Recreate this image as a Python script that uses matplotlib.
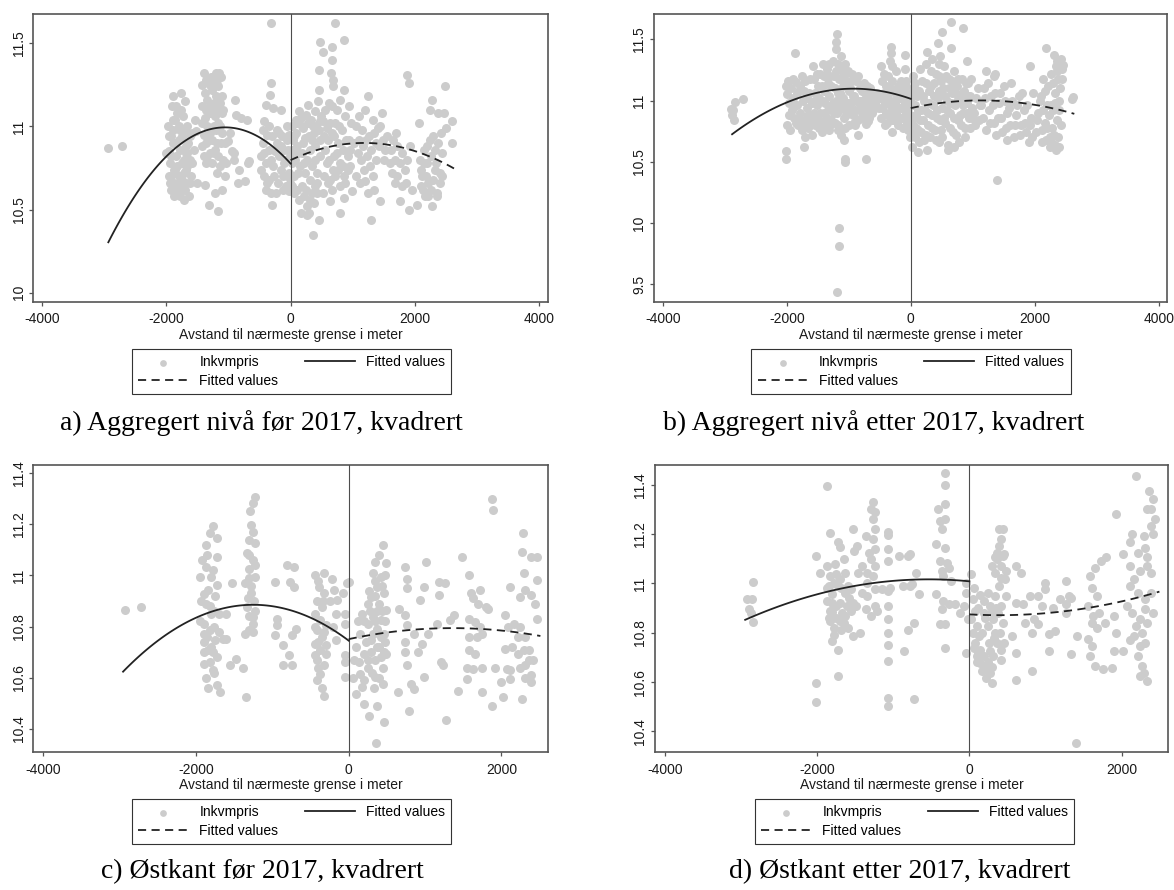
import numpy as np
import matplotlib.pyplot as plt

plt.rcParams['font.family'] = ['Liberation Sans', 'DejaVu Sans']

# Avstand til grensen (m) og lnkvmpris, ett punkt per observasjon
a_pts = np.array([
    (-2933, 10.87), (-2721, 10.88),
    (-2000, 10.84), (-1970, 11.00), (-1960, 10.94), (-1950, 10.85), (-1940, 10.78), (-1930, 10.70),
    (-1920, 10.62), (-1910, 11.12), (-1900, 11.04), (-1890, 10.98), (-1880, 10.58), (-1870, 10.66),
    (-1860, 10.74), (-1850, 10.82), (-1840, 10.90), (-1830, 11.08), (-1820, 10.60), (-1800, 11.00),
    (-1790, 10.70), (-1780, 10.86), (-1765, 11.20), (-1760, 10.64), (-1750, 10.78), (-1740, 10.94),
    (-1730, 11.06), (-1720, 10.56), (-1710, 10.72), (-1700, 11.15), (-1690, 10.84), (-1680, 10.66),
    (-1670, 11.00), (-1660, 10.76), (-1650, 10.90), (-1640, 10.58), (-1620, 10.80), (-1600, 10.70),
    (-1590, 10.96), (-1560, 10.86), (-1540, 11.04), (-1520, 10.97), (-1500, 10.66), (-1900, 10.90),
    (-1800, 10.92), (-1700, 10.98), (-1860, 11.04), (-1750, 10.62), (-1680, 10.88), (-1940, 10.66),
    (-1820, 10.76), (-1720, 10.80),
    (-1960, 10.70), (-1920, 10.82), (-1880, 10.74), (-1860, 10.62), (-1780, 10.58), (-1780, 10.98),
    (-1740, 10.68), (-1700, 10.62), (-1660, 10.84), (-1620, 10.66), (-1580, 10.78), (-1620, 10.94),
    (-1900, 11.18), (-1840, 11.12), (-1800, 10.66), (-1760, 11.10), (-1920, 10.94), (-1680, 10.74),
    (-1400, 11.32), (-1380, 11.20), (-1360, 11.10), (-1340, 11.00), (-1320, 10.92), (-1300, 10.84),
    (-1380, 11.05), (-1400, 10.95), (-1420, 10.88), (-1280, 11.30), (-1260, 11.22), (-1240, 11.14),
    (-1220, 11.06), (-1200, 10.98), (-1180, 10.90), (-1160, 10.82), (-1140, 10.76), (-1120, 11.30),
    (-1110, 11.18), (-1100, 11.08), (-1130, 11.00), (-1150, 11.32), (-1200, 11.32), (-1250, 11.28),
    (-1300, 11.25), (-1340, 11.16), (-1280, 11.08), (-1240, 11.00), (-1300, 10.96), (-1340, 10.80),
    (-1260, 10.78), (-1220, 10.86), (-1180, 10.72), (-1060, 10.90), (-1080, 10.80), (-1050, 10.70),
    (-1320, 10.53), (-1170, 10.49), (-1370, 10.65), (-1210, 10.60), (-1100, 10.62),
    (-1420, 11.25), (-1420, 11.12), (-1420, 11.02), (-1360, 11.28), (-1360, 10.90), (-1320, 11.08),
    (-1300, 11.12), (-1260, 10.92), (-1240, 10.84), (-1220, 11.26), (-1200, 11.18), (-1180, 11.10),
    (-1160, 11.02), (-1160, 11.24), (-1140, 11.14), (-1120, 10.90), (-1100, 10.96), (-1080, 11.10),
    (-1360, 10.78), (-1400, 10.82), (-1280, 10.98), (-1180, 11.28),
    (-897, 11.16), (-885, 11.07), (-794, 11.05), (-703, 11.04), (-976, 10.96), (-915, 10.84),
    (-1006, 10.91), (-824, 10.74), (-733, 10.67), (-854, 10.66), (-691, 10.78), (-1036, 10.78),
    (-903, 10.80), (-945, 10.85), (-673, 10.79),
    (-315, 11.62), (-315, 11.26), (-330, 11.19), (-400, 11.13), (-280, 11.11), (-160, 11.10),
    (-430, 11.03), (-340, 11.00), (-220, 10.98), (-130, 10.94), (-60, 10.92), (-440, 10.90),
    (-350, 10.86), (-190, 10.82), (-90, 10.80), (-400, 10.78), (-280, 10.76), (-160, 10.74),
    (-30, 10.72), (-430, 10.70), (-340, 10.68), (-200, 10.66), (-80, 10.64), (-400, 10.62),
    (-320, 10.60), (-20, 10.61), (-300, 10.53), (-100, 10.78), (-40, 10.86), (-250, 10.85),
    (-120, 10.70), (-380, 10.95), (-220, 10.90), (-470, 10.82), (-470, 10.74), (-10, 10.82),
    (-20, 10.95),
    (-450, 10.98), (-300, 10.94), (-260, 10.70), (-150, 10.88), (-60, 10.70), (-10, 10.66),
    (-380, 10.66), (-240, 10.60), (-120, 10.62), (-50, 11.00), (-420, 10.84), (-320, 10.80),
    (-180, 10.96), (-100, 10.86), (-30, 10.80),
    (30, 11.00), (60, 10.94), (100, 11.02), (130, 11.09), (160, 11.05), (200, 10.99), (250, 11.07),
    (280, 11.13), (330, 11.04), (370, 10.96), (400, 11.09), (440, 11.15), (460, 11.22), (470, 11.03),
    (480, 10.92), (30, 10.86), (70, 10.80), (110, 10.88), (150, 10.76), (190, 10.84), (230, 10.72),
    (270, 10.80), (310, 10.68), (350, 10.76), (390, 10.64), (430, 10.72), (470, 10.82), (60, 10.70),
    (100, 10.62), (140, 10.56), (180, 10.64), (220, 10.58), (260, 10.52), (300, 10.48), (340, 10.60),
    (380, 10.54), (420, 10.66), (160, 10.48), (270, 10.47), (450, 10.44), (360, 10.35), (20, 10.78),
    (230, 10.93), (450, 11.34), (470, 11.51), (80, 11.04),
    (40, 10.92), (90, 10.96), (120, 10.72), (200, 10.90), (250, 10.62), (290, 10.94), (320, 10.86),
    (360, 11.00), (400, 10.88), (430, 10.60), (460, 10.98), (60, 10.60), (180, 11.00), (280, 11.02),
    (350, 10.92), (410, 11.00), (490, 11.06), (20, 10.64), (120, 10.84), (220, 10.78), (320, 10.56),
    (400, 10.80),
    (520, 11.45), (660, 11.48), (710, 11.62), (860, 11.52), (670, 11.40), (650, 11.32), (680, 11.28),
    (690, 11.24), (660, 11.12), (860, 11.22), (520, 11.03), (580, 10.99), (640, 11.02), (700, 10.94),
    (760, 10.90), (820, 10.98), (880, 11.06), (940, 10.92), (980, 11.02), (560, 10.86), (620, 10.80),
    (680, 10.74), (740, 10.84), (800, 10.78), (860, 10.70), (920, 10.82), (540, 10.70), (600, 10.66),
    (660, 10.62), (720, 10.70), (790, 10.64), (850, 10.76), (640, 10.55), (860, 10.57), (790, 10.48),
    (990, 10.61), (1020, 10.90), (940, 11.12),
    (540, 10.94), (600, 10.92), (660, 10.96), (720, 11.02), (780, 11.00), (840, 10.86), (900, 10.92),
    (960, 10.86), (560, 11.10), (620, 11.14), (740, 11.10), (800, 11.16), (580, 10.78), (700, 10.82),
    (760, 10.74), (880, 10.66), (920, 10.74), (640, 10.68), (520, 10.60), (960, 10.76),
    (1050, 11.00), (1100, 10.92), (1150, 10.98), (1200, 11.10), (1250, 11.18), (1260, 10.94),
    (1300, 10.86), (1350, 10.96), (1400, 10.99), (1470, 11.08), (1080, 10.84), (1130, 10.80),
    (1180, 10.74), (1230, 10.82), (1280, 10.76), (1330, 10.70), (1380, 10.80), (1430, 10.88),
    (1480, 10.92), (1200, 10.67), (1290, 10.44), (1440, 10.55), (1520, 10.86), (1560, 10.94),
    (1060, 10.70), (1100, 11.06), (1160, 10.88), (1220, 10.92), (1320, 11.04), (1380, 10.90),
    (1440, 11.00), (1500, 10.80), (1120, 10.66), (1250, 10.60), (1350, 10.62),
    (1620, 10.86), (1650, 10.92), (1680, 10.80), (1720, 10.88), (1760, 10.78), (1800, 10.84),
    (1840, 10.74), (1880, 10.80), (1920, 10.88), (1640, 10.72), (1680, 10.66), (1720, 10.70),
    (1760, 10.55), (1800, 10.64), (1850, 10.66), (1900, 10.50), (1960, 10.62), (1870, 11.31),
    (1900, 11.26), (1700, 10.96), (1600, 10.78),
    (2040, 10.53), (2060, 11.02), (2080, 10.80), (2100, 10.74), (2130, 10.62), (2150, 10.86),
    (2180, 10.70), (2200, 10.78), (2220, 10.66), (2240, 10.92), (2250, 11.10), (2270, 11.16),
    (2280, 10.52), (2300, 10.94), (2320, 10.74), (2350, 10.60), (2380, 11.08), (2400, 10.66),
    (2420, 10.96), (2440, 10.84), (2470, 11.08), (2480, 11.24), (2500, 10.99), (2600, 11.03),
    (2600, 10.90), (2120, 10.70), (2160, 10.58), (2260, 10.82), (2340, 10.78), (2360, 10.58),
    (2100, 10.64), (2140, 10.78), (2200, 10.88), (2220, 10.58), (2300, 10.68), (2320, 10.86),
    (2400, 10.72), (2380, 10.90), (2440, 10.70), (2260, 10.62),
])

b_pts = np.array([
    (-2872, 10.92), (-2900, 10.93), (-2842, 10.99), (-2704, 11.01), (-2854, 10.84), (-2880, 10.88),
    (-1164, 9.96), (-1164, 9.81), (-1194, 9.44), (-1057, 10.52), (-1057, 10.50), (-728, 10.52),
    (-2012, 10.59), (-2012, 10.52), (-1719, 10.62), (1391, 10.35), (-692, 10.83), (-730, 10.81),
    (-860, 10.72), (-310, 10.74),
    (-1863, 11.39), (-1194, 11.54), (-1206, 11.48), (-316, 11.44), (-316, 11.39), (-95, 11.37),
    (657, 11.64), (848, 11.59), (501, 11.56), (442, 11.47), (645, 11.43), (472, 11.36), (263, 11.40),
    (2185, 11.43), (2304, 11.37), (2352, 11.32), (2454, 11.29), (1922, 11.28), (913, 11.32),
    (1218, 11.24), (1367, 11.22),
    (-2020, 11.12), (-1990, 11.05), (-1960, 10.98), (-1940, 11.10), (-1920, 10.92), (-1900, 11.02),
    (-1880, 10.86), (-1860, 11.15), (-1840, 10.96), (-1820, 10.80), (-1800, 11.08), (-1780, 10.90),
    (-1760, 10.76), (-1740, 11.00), (-1720, 10.84), (-1700, 11.16), (-1680, 10.94), (-1660, 10.78),
    (-1640, 11.06), (-1620, 10.88), (-1600, 10.72), (-1760, 11.20), (-1860, 10.82), (-1960, 10.88),
    (-1700, 10.70),
    (-1580, 11.28), (-1560, 11.18), (-1540, 11.06), (-1520, 10.96), (-1500, 10.86), (-1480, 10.78),
    (-1460, 11.22), (-1440, 11.12), (-1420, 11.00), (-1400, 10.90), (-1380, 10.80), (-1360, 11.26),
    (-1340, 11.14), (-1320, 11.04), (-1300, 10.94), (-1280, 10.84), (-1260, 11.32), (-1240, 11.20),
    (-1220, 11.10), (-1210, 11.42), (-1200, 11.00), (-1190, 10.90), (-1180, 11.30), (-1170, 10.80),
    (-1160, 11.18), (-1150, 11.06), (-1140, 10.96), (-1130, 11.36), (-1120, 10.72), (-1110, 11.24),
    (-1100, 11.12), (-1090, 11.02), (-1080, 10.86), (-1070, 10.68), (-1060, 11.30), (-1040, 11.16),
    (-1020, 10.98), (-1000, 10.80), (-1500, 11.12), (-1400, 11.08), (-1300, 11.20), (-1560, 10.90),
    (-1440, 10.82), (-1320, 10.76), (-1180, 10.76), (-1060, 10.78), (-1230, 10.96), (-1380, 10.98),
    (-980, 11.10), (-960, 10.98), (-940, 10.88), (-920, 11.04), (-900, 10.92), (-880, 11.16),
    (-860, 10.84), (-840, 11.00), (-820, 10.94), (-800, 10.86), (-780, 11.08), (-760, 10.96),
    (-740, 10.90), (-720, 11.02), (-700, 10.88), (-680, 10.98), (-660, 10.94), (-640, 11.04),
    (-620, 10.90), (-600, 10.98), (-560, 11.00), (-520, 10.94), (-950, 11.22), (-900, 10.80),
    (-480, 11.28), (-460, 11.16), (-440, 11.06), (-420, 10.98), (-400, 10.90), (-380, 10.82),
    (-360, 11.20), (-340, 11.10), (-320, 11.00), (-300, 10.92), (-280, 10.84), (-260, 11.06),
    (-240, 10.96), (-220, 10.88), (-200, 10.80), (-180, 11.02), (-160, 10.94), (-140, 10.86),
    (-120, 11.08), (-100, 11.26), (-90, 10.98), (-80, 10.90), (-60, 10.82), (-40, 10.76),
    (-30, 11.00), (-20, 10.70), (-10, 10.88), (-310, 11.28), (-330, 11.32), (-70, 11.12),
    (-2000, 10.80), (-1980, 11.16), (-1950, 10.76), (-1900, 11.18), (-1880, 10.96), (-1840, 11.06),
    (-1800, 10.84), (-1780, 11.12), (-1740, 10.80), (-1720, 11.08), (-1680, 11.02), (-1660, 10.88),
    (-1640, 10.82), (-1620, 11.18), (-1600, 10.98), (-1580, 10.84), (-1560, 11.00), (-1540, 10.80),
    (-1520, 11.22), (-1480, 11.02), (-1460, 10.90), (-1440, 10.74), (-1420, 11.30), (-1400, 11.20),
    (-1360, 10.86), (-1340, 10.92), (-1320, 11.30), (-1300, 10.80), (-1280, 11.12), (-1260, 10.98),
    (-1240, 10.90), (-1220, 10.82), (-1200, 11.24), (-1180, 11.06), (-1160, 10.92), (-1140, 11.26),
    (-1120, 11.04), (-1100, 10.94), (-1080, 11.20), (-1060, 10.96), (-1040, 10.88), (-1020, 11.24),
    (-1000, 11.08), (-980, 10.92), (-960, 11.16), (-940, 11.04), (-920, 10.82), (-880, 11.00),
    (-860, 11.20), (-840, 10.92), (-820, 11.10), (-800, 11.00), (-780, 10.94), (-760, 11.14),
    (-740, 11.06), (-720, 10.92), (-700, 11.12), (-680, 10.86), (-660, 11.10), (-620, 11.06),
    (-580, 10.94), (-540, 11.06), (-500, 11.02), (-480, 10.86), (-460, 10.94), (-440, 11.22),
    (-420, 10.80), (-400, 11.12), (-380, 11.04), (-360, 10.88), (-340, 10.96), (-320, 10.84),
    (-300, 11.16), (-280, 11.08), (-260, 10.90), (-240, 11.24), (-220, 11.02), (-200, 11.12),
    (-180, 10.86), (-160, 11.16), (-140, 11.04), (-120, 10.78), (-100, 10.96), (-80, 11.16),
    (-60, 11.04), (-40, 10.94), (-20, 10.86), (-10, 11.06),
    (20, 10.62), (30, 10.80), (40, 10.96), (50, 11.10), (60, 10.70), (80, 10.88), (100, 11.04),
    (120, 10.76), (140, 10.66), (160, 10.92), (180, 11.16), (200, 10.84), (220, 11.00), (240, 10.72),
    (260, 10.60), (280, 10.90), (300, 11.08), (320, 11.24), (340, 10.78), (360, 10.96), (380, 11.14),
    (400, 10.68), (420, 10.86), (440, 11.02), (460, 11.20), (480, 10.76), (500, 10.94), (520, 11.10),
    (540, 11.28), (560, 10.82), (580, 11.00), (600, 10.64), (620, 11.18), (640, 10.90), (660, 11.06),
    (680, 10.74), (700, 11.24), (720, 10.96), (740, 11.12), (760, 10.84), (780, 10.66), (800, 11.02),
    (820, 11.18), (840, 10.90), (860, 11.08), (880, 10.78), (900, 10.98), (920, 11.14), (940, 10.86),
    (960, 11.04), (980, 10.94), (150, 11.26), (250, 11.30), (350, 11.34), (450, 11.30), (120, 10.58),
    (600, 10.60), (700, 10.62), (450, 10.66),
    (10, 11.02), (20, 10.74), (30, 11.20), (40, 10.86), (60, 10.96), (70, 11.14), (90, 10.78),
    (110, 10.92), (130, 11.08), (150, 10.84), (170, 10.74), (190, 11.04), (210, 10.68), (230, 10.92),
    (250, 11.14), (270, 10.80), (290, 10.98), (310, 10.70), (330, 11.12), (350, 10.88), (370, 11.04),
    (390, 10.76), (410, 11.22), (430, 10.92), (450, 11.08), (470, 10.84), (490, 11.16), (510, 10.70),
    (530, 10.86), (550, 11.04), (570, 11.20), (590, 10.92), (610, 11.10), (630, 10.78), (650, 10.98),
    (670, 11.16), (690, 10.86), (710, 11.06), (730, 10.72), (750, 11.00), (770, 11.18), (790, 10.88),
    (810, 10.80), (830, 11.06), (850, 10.96), (870, 10.70), (890, 11.14), (910, 10.90), (930, 11.04),
    (950, 10.78), (970, 11.18), (990, 10.86),
    (1020, 10.90), (1060, 11.02), (1100, 10.84), (1140, 10.96), (1180, 11.10), (1220, 10.76),
    (1260, 10.92), (1300, 11.04), (1340, 10.82), (1380, 10.72), (1420, 10.98), (1460, 10.86),
    (1500, 11.12), (1540, 10.78), (1580, 10.94), (1620, 11.14), (1660, 10.70), (1700, 10.88),
    (1740, 11.04), (1780, 10.80), (1820, 10.92), (1860, 10.74), (1900, 10.66), (1940, 10.86),
    (1980, 11.06), (1340, 11.20), (1560, 10.68),
    (1040, 10.80), (1080, 11.10), (1120, 10.96), (1160, 10.86), (1200, 11.02), (1240, 11.14),
    (1280, 10.82), (1320, 10.96), (1360, 11.06), (1400, 10.86), (1440, 11.06), (1480, 10.74),
    (1520, 11.00), (1560, 10.90), (1600, 10.80), (1640, 11.00), (1680, 10.80), (1720, 10.96),
    (1760, 10.72), (1800, 11.06), (1840, 10.82), (1880, 10.96), (1920, 10.80), (1960, 10.70),
    (2020, 10.74), (2060, 10.90), (2100, 11.04), (2130, 11.18), (2160, 10.82), (2180, 10.68),
    (2200, 10.96), (2220, 11.12), (2240, 10.62), (2260, 11.22), (2280, 10.78), (2300, 10.92),
    (2320, 11.06), (2340, 11.28), (2350, 10.60), (2360, 10.84), (2380, 11.18), (2400, 11.00),
    (2420, 11.34), (2440, 11.26), (2120, 10.76), (2250, 10.70), (2600, 11.01), (2610, 11.03),
    (2040, 10.84), (2080, 11.00), (2110, 10.66), (2140, 10.92), (2170, 11.08), (2200, 10.78),
    (2230, 10.88), (2260, 10.96), (2270, 10.66), (2290, 11.14), (2310, 10.72), (2330, 10.98),
    (2370, 10.70), (2390, 10.92), (2410, 11.10), (2430, 10.80), (2440, 11.18), (2330, 10.64),
    (2360, 11.24), (2400, 10.62),
])

c_pts = np.array([
    (-2930, 10.864), (-2723, 10.877),
    (-1773, 11.195), (-1822, 11.165), (-1724, 11.145), (-1871, 11.12), (-1724, 11.073), (-1871, 11.034),
    (-1945, 10.995), (-1724, 10.962), (-1847, 10.942), (-1748, 10.92), (-1871, 10.89), (-1798, 10.85),
    (-1700, 10.85), (-1601, 10.85), (-1896, 10.81), (-1822, 10.785), (-1896, 10.77), (-1748, 10.746),
    (-1601, 10.753), (-1847, 10.707), (-1724, 10.68), (-1896, 10.655), (-1773, 10.63), (-1871, 10.60),
    (-1724, 10.57), (-1684, 10.544), (-1551, 10.65), (-1477, 10.675), (-1945, 10.82), (-1798, 10.995),
    (-1896, 10.929), (-1800, 10.72), (-1850, 10.76), (-1760, 10.80),
    (-1920, 11.06), (-1850, 11.08), (-1780, 11.02), (-1940, 10.90), (-1820, 10.88), (-1760, 10.86),
    (-1900, 10.70), (-1820, 10.66), (-1760, 10.62), (-1840, 10.56), (-1900, 10.74), (-1780, 10.70),
    (-1700, 10.78), (-1650, 10.75),
    (-1231, 11.305), (-1256, 11.282), (-1281, 11.197), (-1305, 11.14), (-1231, 11.125), (-1330, 11.087),
    (-1256, 11.06), (-1305, 11.027), (-1231, 10.995), (-1354, 10.969), (-1281, 10.93), (-1330, 10.877),
    (-1256, 10.838), (-1305, 10.786), (-1256, 10.812), (-1354, 10.773), (-1527, 10.969), (-1379, 10.64),
    (-1340, 10.524), (-1240, 10.90), (-1300, 10.99),
    (-1290, 11.25), (-1250, 11.17), (-1300, 11.08), (-1230, 11.04), (-1280, 10.96), (-1320, 10.91),
    (-1230, 10.86), (-1300, 10.84), (-1260, 10.78),
    (-960, 10.975), (-812, 11.04), (-714, 11.034), (-763, 10.975), (-714, 10.955), (-936, 10.83),
    (-936, 10.805), (-960, 10.766), (-862, 10.727), (-788, 10.688), (-739, 10.65), (-862, 10.65),
    (-690, 10.79), (-739, 10.766),
    (-320, 11.01), (-444, 11.0), (-394, 10.956), (-320, 10.93), (-419, 10.90), (-345, 10.877),
    (-444, 10.851), (-370, 10.825), (-296, 10.805), (-419, 10.786), (-345, 10.76), (-444, 10.733),
    (-370, 10.707), (-296, 10.694), (-419, 10.668), (-370, 10.616), (-419, 10.59), (-320, 10.53),
    (-222, 10.988), (-197, 10.942), (-148, 10.903), (-173, 10.851), (-74, 10.93), (-50, 10.851),
    (-25, 10.969), (-50, 10.81), (-173, 10.746), (-50, 10.688), (-50, 10.662), (-50, 10.603),
    (0, 10.975),
    (-400, 10.98), (-340, 10.90), (-440, 10.80), (-330, 10.78), (-400, 10.74), (-300, 10.73),
    (-440, 10.69), (-330, 10.65), (-400, 10.64), (-350, 10.56), (-250, 10.90), (-200, 10.80),
    (443, 11.12), (345, 11.053), (492, 11.047), (320, 11.008), (419, 10.995), (369, 10.956),
    (468, 10.93), (295, 10.916), (394, 10.89), (492, 10.864), (246, 10.89), (172, 10.851),
    (320, 10.838), (419, 10.825), (246, 10.812), (369, 10.792), (468, 10.773), (148, 10.773),
    (295, 10.746), (394, 10.72), (492, 10.694), (197, 10.694), (98, 10.72), (345, 10.668),
    (443, 10.64), (246, 10.64), (148, 10.616), (345, 10.603), (443, 10.576), (74, 10.668),
    (172, 10.564), (98, 10.537), (197, 10.498), (271, 10.452), (468, 10.426), (369, 10.49),
    (468, 10.70), (354, 10.345), (50, 10.60), (120, 10.82),
    (400, 11.08), (470, 11.00), (350, 10.98), (270, 10.94), (440, 10.96), (340, 10.92),
    (440, 10.86), (370, 10.86), (280, 10.86), (470, 10.82), (350, 10.82), (200, 10.82),
    (420, 10.76), (320, 10.77), (230, 10.74), (470, 10.74), (370, 10.72), (290, 10.70),
    (420, 10.68), (250, 10.67), (130, 10.66), (300, 10.62), (400, 10.60), (200, 10.59), (330, 10.56),
    (739, 11.034), (763, 10.988), (763, 10.949), (1008, 11.053), (984, 10.956), (1181, 10.975),
    (1181, 10.923), (1255, 10.969), (934, 10.903), (739, 10.844), (664, 10.87), (763, 10.805),
    (861, 10.773), (739, 10.74), (959, 10.733), (1033, 10.773), (739, 10.70), (763, 10.65),
    (910, 10.70), (984, 10.603), (812, 10.576), (861, 10.555), (640, 10.544), (788, 10.472),
    (1279, 10.433), (1206, 10.66), (1231, 10.65), (1157, 10.81), (1329, 10.825), (1378, 10.844),
    (1427, 10.55),
    (1477, 11.073), (1575, 11.0), (1600, 10.93), (1624, 10.91), (1723, 10.942), (1698, 10.89),
    (1797, 10.877), (1575, 10.83), (1649, 10.818), (1723, 10.80), (1575, 10.76), (1674, 10.76),
    (1747, 10.773), (1575, 10.707), (1649, 10.694), (1550, 10.64), (1624, 10.635), (1550, 10.596),
    (1747, 10.64), (1747, 10.544), (1871, 10.49), (1871, 11.30), (1895, 11.256), (1920, 10.64),
    (1821, 10.87),
    (2043, 10.844), (2092, 10.80), (2166, 10.81), (2240, 10.80), (2043, 10.714), (2142, 10.72),
    (2215, 10.694), (2289, 10.707), (2067, 10.636), (2117, 10.63), (2240, 10.64), (2314, 10.65),
    (2363, 10.668), (2117, 10.956), (2240, 10.916), (2314, 10.942), (2388, 10.923), (2265, 11.093),
    (2279, 11.165), (2289, 11.01), (2388, 11.073), (2462, 11.073), (2462, 10.984), (2462, 10.83),
    (2437, 10.89), (2363, 10.707), (2388, 10.61), (2388, 10.583), (2265, 10.518), (2018, 10.524),
    (1994, 10.583), (2117, 10.596), (2314, 10.60), (2412, 10.668), (2215, 10.76), (2314, 10.76),
])

d_pts = np.array([
    (-2921, 10.935), (-2857, 10.935), (-2848, 11.006), (-2896, 10.895), (-2872, 10.88), (-2848, 10.844),
    (-2020, 10.596), (-2020, 10.518), (-1864, 11.393), (-2020, 11.111), (-1962, 11.044),
    (-1825, 11.204), (-1728, 11.166), (-1704, 11.146), (-1874, 11.07), (-1825, 11.03), (-1752, 11.037),
    (-1704, 11.017), (-1630, 11.044), (-1874, 10.983), (-1801, 10.956), (-1728, 10.99), (-1630, 10.962),
    (-1558, 10.976), (-1874, 10.928), (-1825, 10.888), (-1752, 10.908), (-1679, 10.881), (-1606, 10.908),
    (-1533, 10.922), (-1825, 10.847), (-1777, 10.82), (-1704, 10.847), (-1630, 10.867), (-1558, 10.888),
    (-1485, 10.908), (-1801, 10.766), (-1728, 10.732), (-1533, 10.786), (-1436, 10.8), (-1509, 11.132),
    (-1524, 11.22), (-1480, 11.15), (-1460, 11.044), (-1728, 10.624), (-1801, 10.885),
    (-1850, 10.99), (-1780, 11.00), (-1680, 10.98), (-1600, 10.99), (-1800, 10.92), (-1700, 10.92),
    (-1580, 10.94), (-1850, 10.86), (-1750, 10.86), (-1650, 10.84), (-1780, 10.79), (-1680, 10.81),
    (-1600, 10.82), (-1760, 11.08), (-1650, 11.10),
    (-1266, 11.328), (-1290, 11.301), (-1241, 11.288), (-1266, 11.26), (-1241, 11.22), (-1266, 11.179),
    (-1241, 11.138), (-1290, 11.098), (-1241, 11.071), (-1339, 11.044), (-1266, 11.03), (-1339, 11.003),
    (-1241, 10.976), (-1339, 10.949), (-1241, 10.908), (-1363, 10.895), (-1290, 10.868), (-1217, 10.888),
    (-1314, 11.125), (-1363, 11.193), (-1412, 11.071), (-1412, 10.962),
    (-1071, 11.209), (-1071, 11.195), (-1071, 11.138), (-1071, 11.09), (-1071, 10.969), (-1071, 10.908),
    (-1071, 10.854), (-1071, 10.8), (-1071, 10.752), (-1071, 10.685), (-1071, 10.535), (-1071, 10.504),
    (-1144, 10.976), (-1047, 10.983),
    (-925, 11.111), (-803, 11.111), (-779, 11.118), (-876, 10.99), (-779, 10.99), (-706, 11.044),
    (-657, 10.956), (-755, 10.997), (-803, 10.813), (-730, 10.838), (-852, 10.725), (-730, 10.531),
    (-317, 11.447), (-317, 11.40), (-317, 11.321), (-414, 11.301), (-389, 11.251), (-365, 11.22),
    (-317, 11.26), (-438, 11.159), (-317, 11.145), (-389, 11.091), (-292, 11.084), (-365, 11.05),
    (-268, 11.064), (-341, 11.03), (-244, 11.01), (-438, 10.956), (-341, 10.928), (-268, 10.915),
    (-195, 10.915), (-365, 10.895), (-317, 10.834), (-317, 10.739), (-390, 10.834), (-122, 10.88),
    (-73, 10.908), (-49, 10.962), (-49, 11.003), (-49, 10.718), (-24, 10.854),
    (24, 11.037), (49, 10.935), (73, 10.888), (24, 10.854), (97, 10.827), (49, 10.8), (122, 10.786),
    (73, 10.759), (146, 10.732), (97, 10.705), (195, 10.705), (146, 10.678), (219, 10.664),
    (170, 10.644), (268, 10.637), (219, 10.617), (292, 10.596), (170, 10.8), (243, 10.827),
    (317, 10.854), (195, 10.881), (268, 10.908), (341, 10.949), (390, 10.99), (341, 11.044),
    (414, 11.071), (365, 11.098), (438, 11.111), (390, 11.152), (414, 11.179), (438, 11.22),
    (365, 11.125), (463, 11.017), (487, 10.949), (414, 10.908), (341, 10.8), (365, 10.759),
    (414, 10.732), (317, 10.705), (268, 10.725), (414, 10.691), (146, 10.955), (195, 10.928),
    (243, 10.962), (292, 10.888), (292, 11.071), (341, 11.105), (487, 11.051), (560, 10.786),
    (60, 10.98), (120, 10.90), (200, 10.86), (260, 10.76), (320, 10.78), (120, 10.72), (60, 10.74),
    (190, 10.66), (250, 10.68), (300, 10.66), (100, 10.68), (380, 10.88), (440, 10.84), (460, 10.76),
    (400, 10.80), (350, 10.90), (420, 11.02), (460, 11.12), (390, 11.22),
    (608, 11.071), (682, 11.044), (608, 10.922), (706, 10.915), (803, 10.949), (730, 10.84),
    (852, 10.854), (828, 10.80), (901, 10.834), (608, 10.718), (608, 10.61), (828, 10.644),
    (901, 10.949), (998, 10.976), (998, 11.003), (949, 10.908), (1047, 10.793), (1047, 10.725),
    (1120, 10.807), (1193, 10.935), (1266, 11.01), (1314, 10.949), (1266, 10.915), (1339, 10.94),
    (1412, 10.786), (1339, 10.712), (1266, 10.88), (1096, 10.901),
    (1582, 11.03), (1655, 11.064), (1728, 11.091), (1801, 11.105), (1606, 10.983), (1679, 10.949),
    (1558, 10.908), (1631, 10.867), (1704, 10.881), (1777, 10.84), (1606, 10.84), (1679, 10.82),
    (1558, 10.773), (1606, 10.745), (1582, 10.705), (1655, 10.664), (1753, 10.653), (1874, 10.657),
    (1923, 11.281), (1899, 10.867), (1923, 10.8), (1899, 10.725),
    (2190, 11.436), (2142, 11.2), (2020, 11.118), (2117, 11.166), (2215, 11.125), (2288, 11.193),
    (2337, 11.301), (2386, 11.301), (2386, 11.233), (2410, 11.342), (2361, 11.376), (2312, 11.145),
    (2117, 11.071), (2166, 11.017), (2239, 11.051), (2337, 11.105), (2117, 10.99), (2215, 10.962),
    (2312, 10.935), (2386, 10.962), (2142, 10.881), (2239, 10.854), (2312, 10.895), (2190, 10.827),
    (2264, 10.8), (2337, 10.84), (2166, 10.786), (2239, 10.746), (2312, 10.759), (2215, 10.705),
    (2264, 10.664), (2288, 10.637), (2337, 10.603), (2239, 10.624), (2117, 10.772), (2386, 11.044),
    (2410, 10.881), (2020, 10.725), (2069, 10.908), (2410, 11.2), (2337, 11.071), (2434, 11.26),
    (1399, 10.354),
])

# Avleste punkter langs de tilpassede kurvene (venstre = heltrukken, høyre = stiplet)
a_fit_v = np.array([(-2933, 10.32), (-2672, 10.48), (-2370, 10.64), (-2066, 10.78), (-1763, 10.89),
                    (-1460, 10.965), (-1250, 10.995), (-1097, 11.0), (-950, 10.997), (-794, 10.985),
                    (-600, 10.96), (-430, 10.92), (-188, 10.84), (0, 10.77)])
a_fit_h = np.array([(0, 10.805), (250, 10.835), (479, 10.858), (750, 10.882), (1085, 10.894),
                    (1300, 10.898), (1509, 10.896), (1750, 10.882), (1994, 10.858), (2200, 10.83),
                    (2357, 10.802), (2500, 10.77), (2642, 10.738)])
b_fit_v = np.array([(-2884, 10.727), (-2573, 10.83), (-2275, 10.917), (-1976, 10.993), (-1750, 11.035),
                    (-1558, 11.06), (-1260, 11.088), (-901, 11.096), (-603, 11.082), (-304, 11.055),
                    (0, 11.02)])
b_fit_h = np.array([(0, 10.944), (300, 10.965), (531, 10.979), (800, 10.992), (1128, 11.0),
                    (1427, 11.0), (1750, 10.988), (2024, 10.965), (2300, 10.935), (2639, 10.889)])
c_fit_v = np.array([(-2955, 10.635), (-2585, 10.707), (-2339, 10.773), (-2093, 10.825), (-1847, 10.86),
                    (-1601, 10.88), (-1281, 10.886), (-1010, 10.881), (-714, 10.857), (-419, 10.818),
                    (-173, 10.779), (0, 10.75)])
c_fit_h = np.array([(0, 10.75), (369, 10.773), (763, 10.786), (1255, 10.793), (1747, 10.789),
                    (2240, 10.779), (2510, 10.762)])
d_fit_v = np.array([(-2945, 10.85), (-2604, 10.895), (-2264, 10.935), (-1923, 10.965), (-1533, 10.99),
                    (-1144, 11.003), (-755, 11.011), (-365, 11.014), (0, 11.012)])
d_fit_h = np.array([(0, 10.877), (317, 10.87), (657, 10.87), (998, 10.878), (1388, 10.895),
                    (1777, 10.914), (2166, 10.94), (2497, 10.965)])

x_ticks_ab = [-4000, -2000, 0, 2000, 4000]
x_ticks_cd = [-4000, -2000, 0, 2000]
y_ticks_a = [10, 10.5, 11, 11.5]
y_ticks_b = [9.5, 10, 10.5, 11, 11.5]
y_ticks_cd = [10.4, 10.6, 10.8, 11, 11.2, 11.4]

legend_labels = ['Inkvmpris', 'Fitted values', 'Fitted values']
x_title = 'Avstand til nærmeste grense i meter'
captions = ['a) Aggregert nivå før 2017, kvadrert',
            'b) Aggregert nivå etter 2017, kvadrert',
            'c) Østkant før 2017, kvadrert',
            'd) Østkant etter 2017, kvadrert']

fig = plt.figure(figsize=(11.74, 8.90), dpi=100)
fig.patch.set_facecolor('white')

GRID = '#555555'


def qfit(kurve):
    # andregradskurve gjennom de avleste punktene, tegnet tett
    k = np.polyfit(kurve[:, 0], kurve[:, 1], 2)
    xx = np.linspace(kurve[0, 0], kurve[-1, 0], 120)
    return xx, np.polyval(k, xx)


def panel(rect, pts, fit_v, fit_h, xlim, ylim, xticks, yticks, leg_xy, cap, cap_xy):
    ax = fig.add_axes(rect)
    sc = ax.scatter(pts[:, 0], pts[:, 1], s=42, color='#cccccc', linewidths=0, zorder=2)
    ax.axvline(0, color='#4d4d4d', lw=0.8, zorder=3)
    xv, yv = qfit(fit_v)
    xh, yh = qfit(fit_h)
    l1, = ax.plot(xv, yv, color='#222222', lw=1.3, zorder=4)
    l2, = ax.plot(xh, yh, color='#222222', lw=1.3, ls=(0, (4.5, 3)), zorder=4)
    ax.set_xlim(xlim)
    ax.set_ylim(ylim)
    ax.set_xticks(xticks)
    ax.set_xticklabels([str(v) for v in xticks])
    ax.set_yticks(yticks)
    ax.set_yticklabels(['%g' % v for v in yticks], rotation=90, va='center')
    ax.tick_params(direction='out', length=2.6, width=0.9, color=GRID, labelsize=10, labelcolor='#1a1a1a')
    ax.tick_params(axis='x', pad=5)
    ax.tick_params(axis='y', pad=3)
    for s in ax.spines.values():
        s.set_color(GRID)
        s.set_linewidth(1.2)
    ax.set_xlabel(x_title, fontsize=10, labelpad=1, color='#1a1a1a')
    leg = fig.legend([sc, l2, l1], legend_labels, ncol=2, loc='upper center',
                     bbox_to_anchor=leg_xy, bbox_transform=fig.transFigure,
                     fontsize=10, handlelength=3.6, handletextpad=0.8, columnspacing=1.9,
                     borderpad=0.45, labelspacing=0.35, borderaxespad=0,
                     fancybox=False, framealpha=1, edgecolor='#333333',
                     scatterpoints=1, markerscale=0.75)
    leg.get_frame().set_linewidth(0.8)
    fig.text(cap_xy[0], cap_xy[1], cap, family='Liberation Serif', fontsize=20,
             ha='center', va='baseline')
    return ax


panel([0.0284, 0.6610, 0.4382, 0.3233], a_pts, a_fit_v, a_fit_h, (-4140, 4140), (9.946, 11.676),
      x_ticks_ab, y_ticks_a, (0.2483, 0.6079), captions[0], (0.2227, 1 - 430 / 890))
panel([0.5573, 0.6610, 0.4370, 0.3233], b_pts, b_fit_v, b_fit_h, (-4140, 4140), (9.358, 11.707),
      x_ticks_ab, y_ticks_b, (0.7760, 0.6079), captions[1], (0.7445, 1 - 430 / 890))
panel([0.0284, 0.1551, 0.4384, 0.3225], c_pts, c_fit_v, c_fit_h, (-4130, 2610), (10.31, 11.432),
      x_ticks_cd, y_ticks_cd, (0.2483, 0.1022), captions[2], (0.2232, 1 - 878 / 890))
panel([0.5579, 0.1551, 0.4370, 0.3225], d_pts, d_fit_v, d_fit_h, (-4130, 2610), (10.317, 11.48),
      x_ticks_cd, y_ticks_cd, (0.7790, 0.1022), captions[3], (0.7666, 1 - 878 / 890))

fig.savefig('out.png', dpi=100, facecolor='white')
